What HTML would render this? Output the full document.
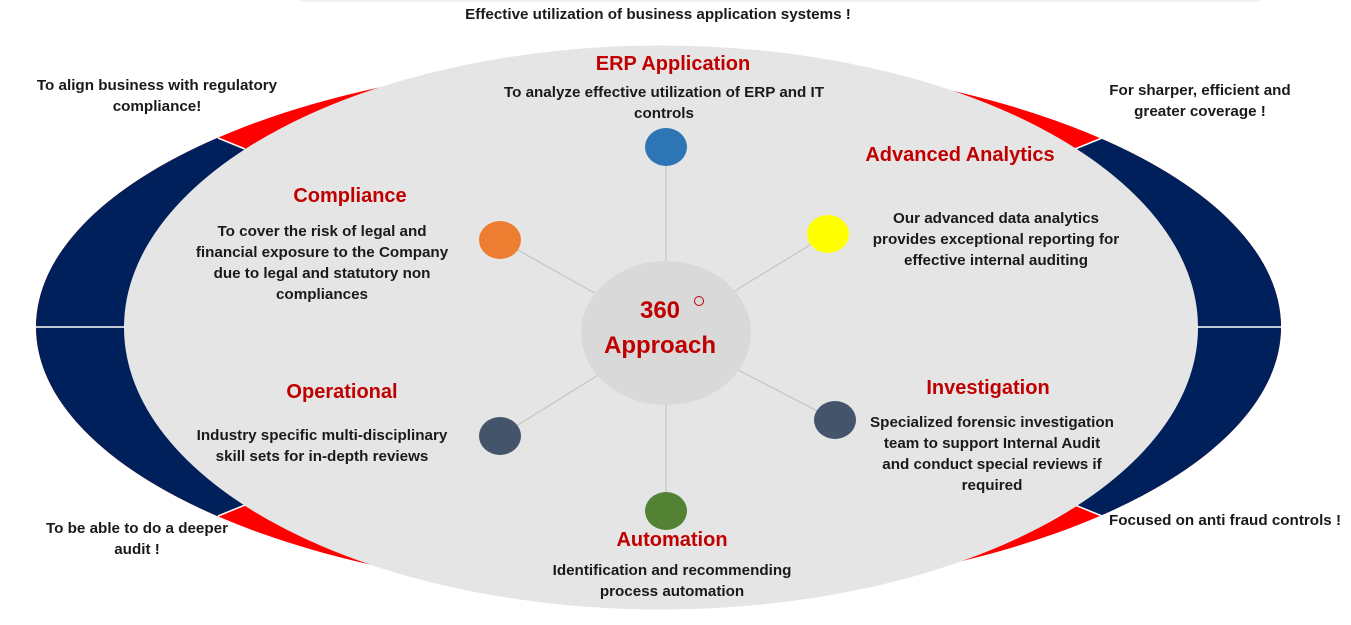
<!DOCTYPE html>
<html><head><meta charset="utf-8"><style>
html,body{margin:0;padding:0;background:#fff;}
svg{display:block;}
text{font-family:"Liberation Sans",sans-serif;font-weight:bold;}
.b{font-size:15.2px;fill:#1a1a1a;}
.h{font-size:20px;fill:#c00000;}
</style></head><body>
<svg width="1351" height="625" viewBox="0 0 1351 625">
<defs>
<clipPath id="navy"><path d="M0,0 L218,138 L275,161 L275,493 L218,516 L0,625 Z M1351,0 L1102,138 L1045,161 L1045,493 L1102,516 L1351,625 Z"/></clipPath>
</defs>
<line x1="300" y1="0.5" x2="1260" y2="0.5" stroke="#eee" stroke-width="2"/>
<ellipse cx="658.5" cy="327" rx="622.5" ry="268" fill="#ff0000"/>
<ellipse cx="658.5" cy="327" rx="622.5" ry="268" fill="#00205b" clip-path="url(#navy)"/>
<line x1="218" y1="138" x2="245" y2="149" stroke="#fff" stroke-width="1.5"/>
<line x1="218" y1="516" x2="245" y2="505" stroke="#fff" stroke-width="1.5"/>
<line x1="1102" y1="138" x2="1075" y2="149" stroke="#fff" stroke-width="1.5"/>
<line x1="1102" y1="516" x2="1075" y2="505" stroke="#fff" stroke-width="1.5"/>
<ellipse cx="661" cy="327.5" rx="537" ry="282" fill="#e5e5e5"/>
<line x1="36" y1="327" x2="125" y2="327" stroke="#fff" stroke-width="1.5"/>
<line x1="1197" y1="327" x2="1281" y2="327" stroke="#fff" stroke-width="1.5"/>
<g stroke="#bfbfbf" stroke-width="1">
<line x1="666" y1="333" x2="666" y2="147"/>
<line x1="666" y1="333" x2="666" y2="511"/>
<line x1="666" y1="333" x2="500" y2="240"/>
<line x1="666" y1="333" x2="828" y2="234"/>
<line x1="666" y1="333" x2="500" y2="436"/>
<line x1="666" y1="333" x2="835" y2="420"/>
</g>
<ellipse cx="666" cy="333" rx="85" ry="72" fill="#d9d9d9"/>
<ellipse cx="666" cy="147" rx="21" ry="19" fill="#2e75b6"/>
<ellipse cx="500" cy="240" rx="21" ry="19" fill="#ed7d31"/>
<ellipse cx="828" cy="234" rx="21" ry="19" fill="#ffff00"/>
<ellipse cx="500" cy="436" rx="21" ry="19" fill="#44546a"/>
<ellipse cx="835" cy="420" rx="21" ry="19" fill="#44546a"/>
<ellipse cx="666" cy="511" rx="21" ry="19" fill="#548235"/>
<text x="660" y="318" text-anchor="middle" style="font-size:24px;fill:#c00000">360</text>
<circle cx="699" cy="301" r="4.5" fill="none" stroke="#c00000" stroke-width="1"/>
<text x="660" y="353" text-anchor="middle" style="font-size:24px;fill:#c00000">Approach</text>
<text x="658" y="19" text-anchor="middle" class="b">Effective utilization of business application systems !</text>
<text x="157" y="90" text-anchor="middle" class="b">To align business with regulatory</text>
<text x="157" y="111" text-anchor="middle" class="b">compliance!</text>
<text x="1200" y="95" text-anchor="middle" class="b">For sharper, efficient  and</text>
<text x="1200" y="116" text-anchor="middle" class="b">greater coverage !</text>
<text x="137" y="533" text-anchor="middle" class="b">To be able to do a deeper</text>
<text x="137" y="554" text-anchor="middle" class="b">audit !</text>
<text x="1225" y="525" text-anchor="middle" class="b">Focused on anti fraud controls !</text>
<text x="673" y="70" text-anchor="middle" class="h">ERP Application</text>
<text x="664" y="97" text-anchor="middle" class="b">To analyze effective utilization of ERP and IT</text>
<text x="664" y="118" text-anchor="middle" class="b">controls</text>
<text x="350" y="202" text-anchor="middle" class="h">Compliance</text>
<text x="322" y="236" text-anchor="middle" class="b">To cover the risk of legal and</text>
<text x="322" y="257" text-anchor="middle" class="b">financial exposure to the Company</text>
<text x="322" y="278" text-anchor="middle" class="b">due to legal and statutory non</text>
<text x="322" y="299" text-anchor="middle" class="b">compliances</text>
<text x="960" y="161" text-anchor="middle" class="h">Advanced Analytics</text>
<text x="996" y="223" text-anchor="middle" class="b">Our advanced data analytics</text>
<text x="996" y="244" text-anchor="middle" class="b">provides exceptional reporting for</text>
<text x="996" y="265" text-anchor="middle" class="b">effective internal auditing</text>
<text x="342" y="398" text-anchor="middle" class="h">Operational</text>
<text x="322" y="440" text-anchor="middle" class="b">Industry specific multi-disciplinary</text>
<text x="322" y="461" text-anchor="middle" class="b">skill sets for in-depth reviews</text>
<text x="988" y="394" text-anchor="middle" class="h">Investigation</text>
<text x="992" y="427" text-anchor="middle" class="b">Specialized forensic investigation</text>
<text x="992" y="448" text-anchor="middle" class="b">team to support Internal Audit</text>
<text x="992" y="469" text-anchor="middle" class="b">and conduct special reviews if</text>
<text x="992" y="490" text-anchor="middle" class="b">required</text>
<text x="672" y="546" text-anchor="middle" class="h">Automation</text>
<text x="672" y="575" text-anchor="middle" class="b">Identification and recommending</text>
<text x="672" y="596" text-anchor="middle" class="b">process automation</text>
</svg>
</body></html>
